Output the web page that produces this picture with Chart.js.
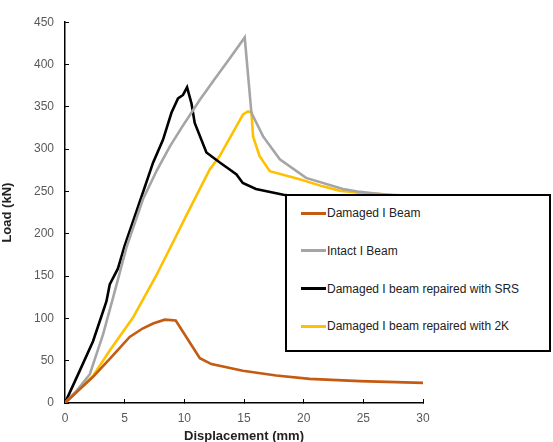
<!DOCTYPE html>
<html>
<head>
<meta charset="utf-8">
<script src="https://cdn.jsdelivr.net/npm/chart.js@4.4.0/dist/chart.umd.min.js"></script>
<style>
  html, body { margin: 0; padding: 0; background: #fff; }
  #wrap { position: relative; width: 553px; height: 442px; }
  #legendBox {
    position: absolute; left: 285px; top: 194px; width: 262px; height: 154px;
    background: #fff; border: 2px solid #000;
    font-family: "Liberation Sans", Arial, sans-serif; font-size: 12px; color: #222;
  }
  .item { position: absolute; left: 14px; height: 14px; display: flex; align-items: center; }
  .swatch { width: 25px; height: 3px; margin-right: 1px; }
</style>
</head>
<body>
<div id="wrap">
  <canvas id="chart" width="553" height="442"></canvas>
  <div id="legendBox"></div>
</div>
<script>
const seriesNames = ['Damaged I Beam', 'Intact I Beam', 'Damaged I beam repaired with SRS', 'Damaged I beam repaired with 2K'];
const seriesColors = ['#C55A11', '#A5A5A5', '#000000', '#FFC000'];

const damagedX = [0, 2.35, 4, 5.42, 6.5, 7.38, 8.36, 9.28, 11.3, 12.27, 14.9, 17.7, 20.5, 24.7, 30];
const damagedY = [0, 31, 56, 78, 88, 94, 98.5, 97.5, 53, 46, 38, 32.5, 28.5, 25.8, 23.8];

const intactX = [0, 1, 2.08, 3.19, 4.17, 5.15, 6.54, 7.7, 8.78, 9.8, 10.73, 11.29, 12.5, 13.8, 15.06, 15.62, 16.6, 18.0, 20.2, 23.3, 24.5, 27, 30];
const intactY = [0, 15, 34, 81, 132, 184, 241, 275, 303, 326, 346, 358, 382, 407, 432, 343, 315, 288, 266, 253, 250, 246, 242];

const srsX = [0, 1.23, 2.35, 3.47, 3.75, 4.44, 5.0, 5.98, 7.38, 8.21, 8.92, 9.47, 9.89, 10.23, 10.6, 10.87, 11.85, 13.0, 13.8, 14.37, 14.9, 16.0, 18.3, 20, 22];
const srsY = [0, 38, 73, 120, 140, 159, 186, 226, 284, 311, 343, 360, 364, 373, 354, 331, 296, 284, 276, 270, 260, 253, 246, 243, 241];

const twoKX = [0, 2.35, 3.75, 5.7, 7.66, 9.05, 10.18, 12.13, 12.97, 14.92, 15.34, 15.62, 15.76, 16.3, 17.16, 19.67, 21.6, 23.0, 25, 30];
const twoKY = [0, 32, 62, 101, 151, 190, 222, 276, 292, 341, 344.5, 343.5, 315, 292, 274, 264.5, 256, 251, 248, 244];

const xTicks = [0, 5, 10, 15, 20, 25, 30];
const yTicks = [0, 50, 100, 150, 200, 250, 300, 350, 400, 450];

const toPoints = (xs, ys) => xs.map((x, i) => ({ x: x, y: ys[i] }));
const allSeries = [[damagedX, damagedY], [intactX, intactY], [srsX, srsY], [twoKX, twoKY]];

const datasets = allSeries.map((s, i) => ({
  label: seriesNames[i],
  data: toPoints(s[0], s[1]),
  borderColor: seriesColors[i],
  borderWidth: 2.6,
  pointRadius: 0,
  tension: 0,
  fill: false
}));

const font = { family: '"Liberation Sans", Arial, sans-serif', size: 12 };

new Chart(document.getElementById('chart'), {
  type: 'line',
  data: { datasets: datasets },
  options: {
    responsive: false,
    animation: false,
    layout: { padding: { top: 10, right: 130, left: 0, bottom: 0 } },
    plugins: { legend: { display: false }, tooltip: { enabled: false } },
    scales: {
      x: {
        type: 'linear', min: 0, max: 30,
        afterBuildTicks: scale => { scale.ticks = xTicks.map(v => ({ value: v })); },
        afterFit: scale => { scale.height = 39; },
        border: { display: true, color: '#000', width: 1.5 },
        grid: { drawOnChartArea: false, drawTicks: true, tickLength: -4, color: '#000' },
        ticks: { color: '#595959', font: font, padding: 12 },
        title: { display: true, text: 'Displacement (mm)', color: '#222', font: { family: font.family, size: 13, weight: 'bold' }, padding: { top: 0, bottom: -2 } }
      },
      y: {
        type: 'linear', min: 0, max: 450,
        afterBuildTicks: scale => { scale.ticks = yTicks.map(v => ({ value: v })); },
        afterFit: scale => { scale.width = 65; },
        border: { display: true, color: '#000', width: 1.5 },
        grid: { drawOnChartArea: false, drawTicks: true, tickLength: -4, color: '#000' },
        ticks: { color: '#595959', font: font, padding: 15 },
        title: { display: true, text: 'Load (kN)', color: '#222', font: { family: font.family, size: 13, weight: 'bold' }, padding: { top: 0, bottom: 6 } }
      }
    }
  }
});

// legend drawn over the plot, like the original
const box = document.getElementById('legendBox');
seriesNames.forEach((name, i) => {
  const item = document.createElement('div');
  item.className = 'item';
  item.style.top = (10 + i * 37.8) + 'px';
  item.innerHTML = '<span class="swatch" style="background:' + seriesColors[i] + '"></span>' + name;
  box.appendChild(item);
});
</script>
</body>
</html>
